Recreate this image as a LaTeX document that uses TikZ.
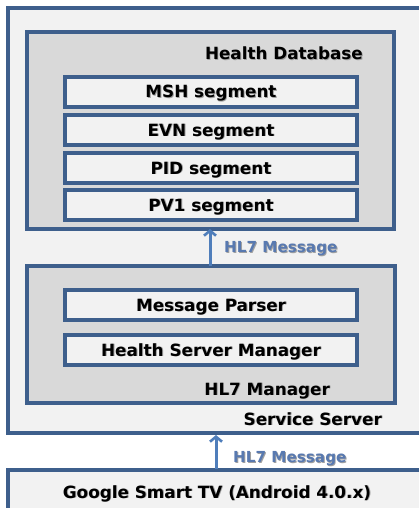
\documentclass[tikz,border=0pt]{standalone}
\usepackage{fontspec}
\setmainfont{DejaVu Sans}
\usetikzlibrary{arrows.meta}
\definecolor{bord}{HTML}{3E5F8C}
\definecolor{lightfill}{HTML}{F2F2F2}
\definecolor{midfill}{HTML}{D9D9D9}
\definecolor{arrowc}{HTML}{4F7EBB}
\definecolor{labc}{HTML}{5879B0}
\definecolor{shadc}{HTML}{A0A0A0}
\newcommand\shtxt[1]{\rlap{\kern0.9pt\raisebox{-0.9pt}{\textcolor{shadc}{#1}}}#1}
\tikzset{
  box/.style={draw=bord, line width=3.2pt},
  segbox/.style={draw=bord, line width=3.2pt, fill=lightfill, minimum width=292pt, minimum height=30pt, inner sep=0pt, text height=12pt, text depth=0pt, font=\bfseries\fontsize{16.8}{19}\selectfont},
  title/.style={font=\bfseries\fontsize{16.8}{19}\selectfont, inner sep=0pt, text height=12pt, text depth=0pt},
  msglab/.style={font=\bfseries\fontsize{15.2}{18}\selectfont, text=labc, inner sep=0pt, text height=11pt, text depth=0pt},
  flow/.style={draw=arrowc, line width=3pt, -{Straight Barb[length=5pt,width=12pt,line width=2.6pt]}}
}
\begin{document}
\begin{tikzpicture}[x=1pt,y=-1pt]
\useasboundingbox (0,0) rectangle (419,508);
% outer boxes
\fill[lightfill] (8,8) rectangle (430,433);
\draw[box] (430,8) -- (8,8) -- (8,433) -- (430,433);
\fill[lightfill] (8,470) rectangle (430,520);
\draw[box] (430,470) -- (8,470) -- (8,520);
\node[title, anchor=east] (ss) at (382,419) {\shtxt{Service Server}};
\node[title] (tv) at (217,492) {\shtxt{Google Smart TV (Android 4.0.x)}};
% health database
\draw[box, fill=midfill] (27,32) rectangle (394,229);
\coordinate (dbbot) at (210,229);
\node[title, anchor=east] (db) at (363,54) {\shtxt{Health Database}};
\node[segbox] (msh) at (211,92) {\shtxt{MSH segment}};
\node[segbox] (evn) at (211,130) {\shtxt{EVN segment}};
\node[segbox] (pid) at (211,168) {\shtxt{PID segment}};
\node[segbox] (pv1) at (211,205) {\shtxt{PV1 segment}};
% HL7 manager
\draw[box, fill=midfill] (27,266) rectangle (395,403);
\coordinate (mgtop) at (210,266);
\node[segbox] (mp) at (211,305) {\shtxt{Message Parser}};
\node[segbox] (hsm) at (211,350) {\shtxt{Health Server Manager}};
\node[title, anchor=east] (hm) at (330,389) {\shtxt{HL7 Manager}};
% arrows
\coordinate (sstop) at (216,435);
\coordinate (tvtop) at (216,469);
\draw[flow] (mgtop) -- (dbbot);
\draw[flow] (tvtop) -- (sstop);
\node[msglab, anchor=west] (m1) at (224,247) {\shtxt{HL7 Message}};
\node[msglab, anchor=west] (m2) at (233,457) {\shtxt{HL7 Message}};
\end{tikzpicture}
\end{document}
